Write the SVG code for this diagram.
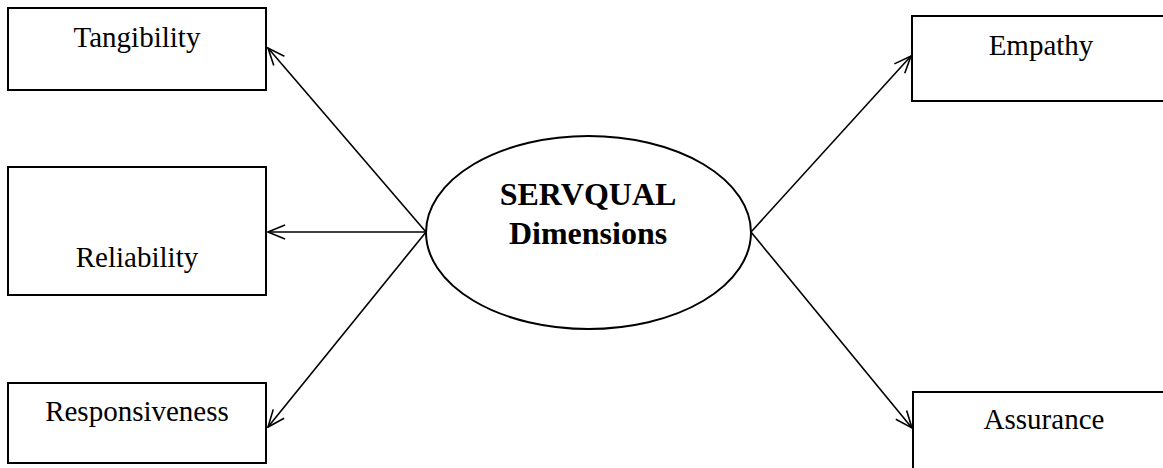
<svg xmlns="http://www.w3.org/2000/svg" width="1163" height="468" viewBox="0 0 1163 468">
  <defs>
    <marker id="arr" viewBox="0 0 20 20" refX="19" refY="10" markerWidth="20" markerHeight="20" markerUnits="userSpaceOnUse" orient="auto">
      <path d="M2,3 L19,10 L2,17" fill="none" stroke="#000" stroke-width="1.6"/>
    </marker>
  </defs>
  <style>
    .box { fill: #fff; stroke: #000; stroke-width: 2; }
    .lbl { font-family: "Liberation Serif", "Times New Roman", serif; font-size: 29px; fill: #000; text-anchor: middle; }
    .bold { font-family: "Liberation Serif", "Times New Roman", serif; font-size: 32px; font-weight: bold; fill: #000; text-anchor: middle; }
    .conn { stroke: #000; stroke-width: 1.6; fill: none; marker-end: url(#arr); }
  </style>
  <rect width="1163" height="468" fill="#fff"/>
  <g id="connectors">
    <line class="conn" x1="426" y1="232" x2="268" y2="48"/>
    <line class="conn" x1="426" y1="232" x2="268" y2="232"/>
    <line class="conn" x1="426" y1="232" x2="268" y2="427"/>
    <line class="conn" x1="751" y1="232" x2="911" y2="56"/>
    <line class="conn" x1="751" y1="232" x2="912" y2="428"/>
  </g>
  <g id="tangibility">
    <rect class="box" x="8" y="8" width="258" height="82"/>
    <text class="lbl" x="137" y="47">Tangibility</text>
  </g>
  <g id="reliability">
    <rect class="box" x="8" y="167" width="258" height="128"/>
    <text class="lbl" x="137" y="267">Reliability</text>
  </g>
  <g id="responsiveness">
    <rect class="box" x="8" y="383" width="258" height="80"/>
    <text class="lbl" x="137" y="421">Responsiveness</text>
  </g>
  <g id="empathy">
    <rect class="box" x="912" y="16" width="270" height="85"/>
    <text class="lbl" x="1041" y="55">Empathy</text>
  </g>
  <g id="assurance">
    <rect class="box" x="913" y="392" width="270" height="100"/>
    <text class="lbl" x="1044" y="429">Assurance</text>
  </g>
  <g id="servqual">
    <ellipse cx="588.5" cy="232.5" rx="162.5" ry="96.5" fill="#fff" stroke="#000" stroke-width="2"/>
    <text class="bold" x="588" y="205">SERVQUAL</text>
    <text class="bold" x="588" y="244">Dimensions</text>
  </g>
</svg>
